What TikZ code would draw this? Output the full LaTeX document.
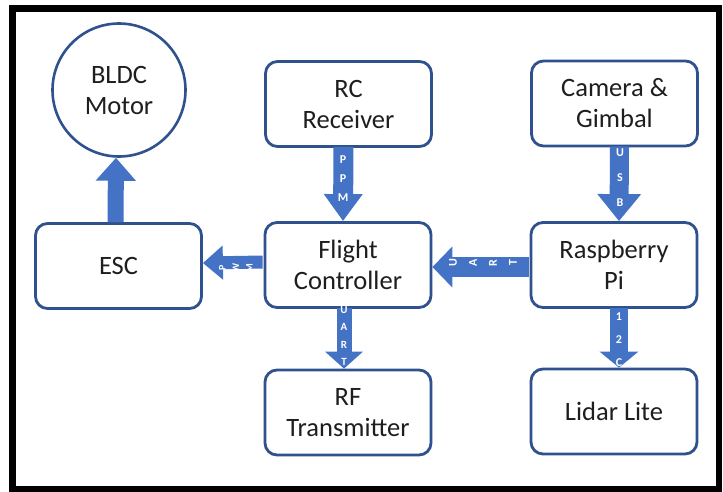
\documentclass[tikz,border=0pt]{standalone}
\usepackage{fontspec}
\setmainfont{Carlito}
\usetikzlibrary{arrows.meta}
\definecolor{boxline}{HTML}{2F528F}
\definecolor{arrowblue}{HTML}{4472C4}
\definecolor{txt}{HTML}{1E1E1E}
\begin{document}
\begin{tikzpicture}[x=1pt,y=-1pt,
  blk/.style={draw=boxline, line width=2.8pt, rounded corners=12pt, fill=white,
    text=txt, align=center, font=\fontsize{26.5}{31}\selectfont,
    minimum width=166pt, minimum height=85pt, inner sep=0pt},
  circ/.style={draw=boxline, line width=2.6pt, circle, fill=white,
    text=txt, align=center, font=\fontsize{26.5}{31}\selectfont,
    minimum size=133pt, inner sep=0pt},
  barrow/.style={draw=arrowblue, line width=#1},
  lbl/.style={text=white, align=center, inner sep=0pt,
    font=\fontsize{12}{19}\selectfont\bfseries}
]
\useasboundingbox (0,0) rectangle (723,491);
\fill[white] (0,0) rectangle (723,491);
\draw[black, line width=6.5pt] (12.5,8.5) rectangle (719,489.5);

\node[circ] (motor) at (119,90) {BLDC\\Motor};
\node[blk] (esc) at (118.5,266) {ESC};
\node[blk] (rc) at (348.5,104) {RC\\Receiver};
\node[blk] (fc) at (348,265) {Flight\\Controller};
\node[blk] (rf) at (348,412.5) {RF\\Transmitter};
\node[blk] (cam) at (614.5,103.5) {Camera \&\\Gimbal};
\node[blk] (rpi) at (614,265) {Raspberry\\Pi};
\node[blk] (lidar) at (614,411.5) {Lidar Lite};

% ESC -> Motor
\draw[barrow=16pt, -{Triangle[length=23pt,width=39pt]}]
  ([xshift=-3pt]esc.north) -- ([xshift=-3pt]motor.south);
% RC -> FC (PPM)
\draw[barrow=20pt, -{Triangle[length=27pt,width=37pt]}]
  ([xshift=-5pt,yshift=1pt]rc.south) -- ([xshift=-5pt]fc.north);
\node[lbl] (ppm) at (343,179) {P\\P\\M};
% Camera -> RPi (USB)
\draw[barrow=19pt, -{Triangle[length=27pt,width=42pt]}]
  ([xshift=5pt,yshift=1pt]cam.south) -- ([xshift=5pt]rpi.north);
\node[lbl, font=\fontsize{12}{25}\selectfont\bfseries] (usb) at (620,178) {U\\S\\B};
% FC -> ESC (PWM)
\draw[barrow=13pt, -{Triangle[length=20pt,width=33pt]}]
  ([yshift=3pt,xshift=-1pt]fc.west) -- ([yshift=3pt]esc.east);
\node[lbl, rotate=90, font=\fontsize{10}{13.5}\selectfont\bfseries] (pwm) at (236,268) {P\\W\\M};
% RPi -> FC (UART)
\draw[barrow=20pt, -{Triangle[length=20pt,width=40pt]}]
  ([yshift=-2pt,xshift=-1pt]rpi.west) -- ([yshift=-2pt]fc.east);
\node[lbl, rotate=90, font=\fontsize{12}{20}\selectfont\bfseries] (uart1) at (483,263) {U\\A\\R\\T};
% FC -> RF (UART)
\draw[barrow=15pt, -{Triangle[length=17pt,width=37pt]}]
  ([xshift=-4pt,yshift=1pt]fc.south) -- ([xshift=-4pt]rf.north);
\node[lbl, font=\fontsize{11}{17.5}\selectfont\bfseries] (uart2) at (344,336) {U\\A\\R\\T};
% RPi -> Lidar (I2C)
\draw[barrow=18pt, -{Triangle[length=16pt,width=38pt]}]
  ([xshift=5pt,yshift=1pt]rpi.south) -- ([xshift=5pt]lidar.north);
\node[lbl, font=\fontsize{12}{23}\selectfont\bfseries] (i2c) at (619,340) {1\\2\\C};
\end{tikzpicture}
\end{document}
